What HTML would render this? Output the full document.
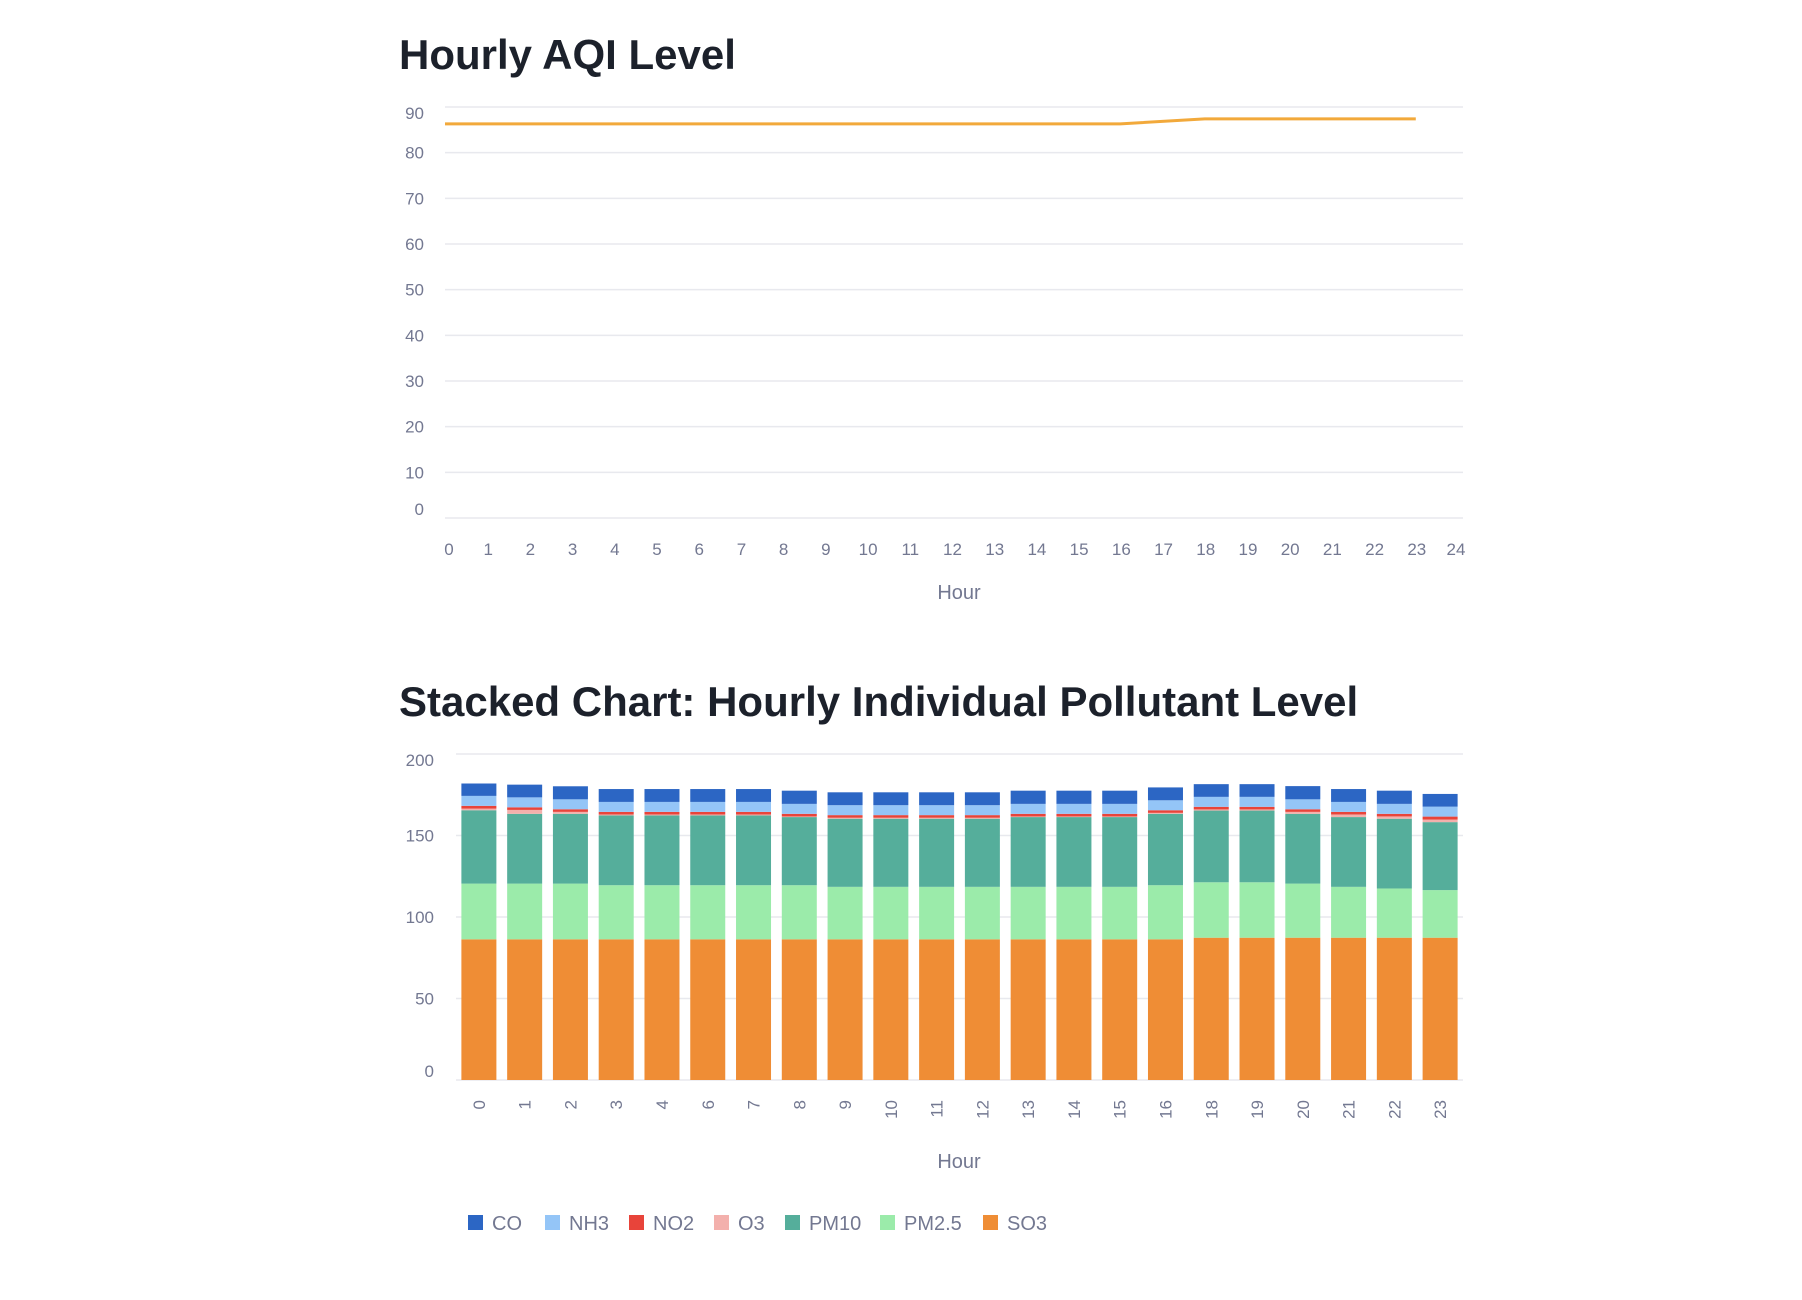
<!DOCTYPE html>
<html><head><meta charset="utf-8"><style>
html,body{margin:0;padding:0;background:#fff;width:1802px;height:1300px;overflow:hidden}
svg{display:block}
text{font-family:"Liberation Sans",sans-serif}
.tick{fill:#737891;font-size:17px}
.title{fill:#1c212b;font-size:42px;font-weight:bold}
.grid{stroke:#e8e9ee;stroke-width:1.5}
</style></head><body>
<svg id="svg" width="1802" height="1300">
<text class="title" x="399" y="69">Hourly AQI Level</text>
<g id="c1"></g>
<text class="title" x="399" y="716">Stacked Chart: Hourly Individual Pollutant Level</text>
<g id="c2"></g>
</svg>
<script>
const aqiHours=[0,1,2,3,4,6,7,8,9,10,11,12,13,14,15,16,18,19,20,21,22,23];
const aqiValues=[86.3,86.3,86.3,86.3,86.3,86.3,86.3,86.3,86.3,86.3,86.3,86.3,86.3,86.3,86.3,86.3,87.4,87.4,87.4,87.4,87.4,87.4];
const aqiYTicks=[0,10,20,30,40,50,60,70,80,90];
const aqiXTicks=[0,1,2,3,4,5,6,7,8,9,10,11,12,13,14,15,16,17,18,19,20,21,22,23,24];

const hours=["0","1","2","3","4","6","7","8","9","10","11","12","13","14","15","16","18","19","20","21","22","23"];
const so3=[86.3,86.3,86.3,86.3,86.3,86.3,86.3,86.3,86.3,86.3,86.3,86.3,86.3,86.3,86.3,86.3,87.3,87.3,87.3,87.3,87.3,87.3];
const pm25=[34.2,34.2,34.2,33.2,33.2,33.2,33.2,33.2,32.2,32.2,32.2,32.2,32.2,32.2,32.2,33.2,34.0,34.0,33.2,31.2,30.2,29.2];
const pm10=[45.0,42.8,42.8,42.8,42.8,42.8,42.8,41.8,41.8,41.8,41.8,41.8,42.8,42.8,42.8,43.8,44.0,44.0,42.8,42.8,42.8,41.7];
const o3=[1.0,2.4,1.2,0.6,0.6,0.6,0.6,0.4,0.6,0.6,0.6,0.6,0.4,0.4,0.4,0.6,0.7,0.7,1.2,1.6,1.4,1.6];
const no2=[1.7,1.6,1.6,1.6,1.6,1.6,1.6,1.6,1.6,1.6,1.6,1.6,1.6,1.6,1.6,1.6,1.6,1.6,1.6,1.6,1.6,1.8];
const nh3=[6.1,6.1,6.1,6.1,6.1,6.1,6.1,6.1,6.1,6.1,6.1,6.1,6.1,6.1,6.1,6.1,6.1,6.1,6.1,6.1,6.1,6.1];
const co=[7.6,7.8,8.0,7.9,7.9,7.9,7.9,8.1,7.9,7.9,7.9,7.9,8.1,8.1,8.1,7.9,7.8,7.8,8.1,7.9,8.1,7.8];
const stackYTicks=[0,50,100,150,200];
const seriesNames=["SO3","PM2.5","PM10","O3","NO2","NH3","CO"];
const seriesColors=["#ef8d35","#9bebaa","#55ae9b","#f3b0ac","#e8443a","#94c5f7","#2c66c4"];
const legendOrder=["CO","NH3","NO2","O3","PM10","PM2.5","SO3"];

const NS="http://www.w3.org/2000/svg";
function mk(tag,attrs,parent){const e=document.createElementNS(NS,tag);for(const k in attrs)e.setAttribute(k,attrs[k]);parent.appendChild(e);return e;}

// Chart 1
const c1=document.getElementById('c1');
const x1=h=>445+h*(1458-445)/24;
const y1=v=>518-v*(518-107)/90;
aqiYTicks.forEach(v=>{
  const l=mk('line',{x1:445,x2:1463,y1:y1(v),y2:y1(v),class:'grid'},c1);
  
  
  let ly=y1(v)+6; if(v===90)ly+=6; if(v===0)ly-=9;
  const t=mk('text',{x:424,y:ly,class:'tick','text-anchor':'end'},c1);t.textContent=v;
  
  
});
aqiXTicks.forEach(h=>{
  let lx=x1(h)+1; if(h===0)lx=x1(0)+4; if(h===24)lx=1456;
  const t=mk('text',{x:lx,y:555,class:'tick','text-anchor':'middle'},c1);t.textContent=h;
  
  
});
const xt=mk('text',{x:959,y:599,class:'tick','text-anchor':'middle'},c1);xt.textContent='Hour';xt.style.fontSize='20px';


const pts=aqiHours.map((h,i)=>x1(h)+','+y1(aqiValues[i])).join(' ');
const pl=mk('polyline',{points:pts,fill:'none',stroke:'#f2a93b','stroke-width':3},c1);



// Chart 2
const c2=document.getElementById('c2');
const X0=456,X1=1463,band=(X1-X0)/hours.length,bw=35;
const y2=v=>1080-v*(1080-754)/200;
stackYTicks.forEach(v=>{
  const l=mk('line',{x1:X0,x2:X1,y1:y2(v),y2:y2(v),class:'grid'},c2);
  
  
  let ly=y2(v)+6; if(v===200)ly+=6; if(v===0)ly-=9;
  const t=mk('text',{x:434,y:ly,class:'tick','text-anchor':'end'},c2);t.textContent=v;
  
  
});
const series=[so3,pm25,pm10,o3,no2,nh3,co];
hours.forEach((h,i)=>{
  const cx=X0+band*(i+0.5);
  let base=0;
  series.forEach((s,k)=>{
    const top=base+s[i];
    const r=mk('rect',{x:cx-bw/2,y:y2(top),width:bw,height:y2(base)-y2(top),fill:seriesColors[k]},c2);
    
    
    base=top;
  });
  const t=mk('text',{x:0,y:0,class:'tick','text-anchor':'end',transform:`translate(${cx+6},1100) rotate(-90)`},c2);t.textContent=h;
  
  
});
const xt2=mk('text',{x:959,y:1168,class:'tick','text-anchor':'middle'},c2);xt2.textContent='Hour';xt2.style.fontSize='20px';


const legX=[468,545,629,714,785,880,983];
legendOrder.forEach((n,i)=>{
  const k=seriesNames.indexOf(n);
  const g=mk('g',{},c2);
  
  
  mk('rect',{x:legX[i],y:1215,width:15,height:15,fill:seriesColors[k]},g);
  const t=mk('text',{x:legX[i]+24,y:1230,class:'tick'},g);t.textContent=n;t.style.fontSize='20px';
});
</script>
</body></html>
